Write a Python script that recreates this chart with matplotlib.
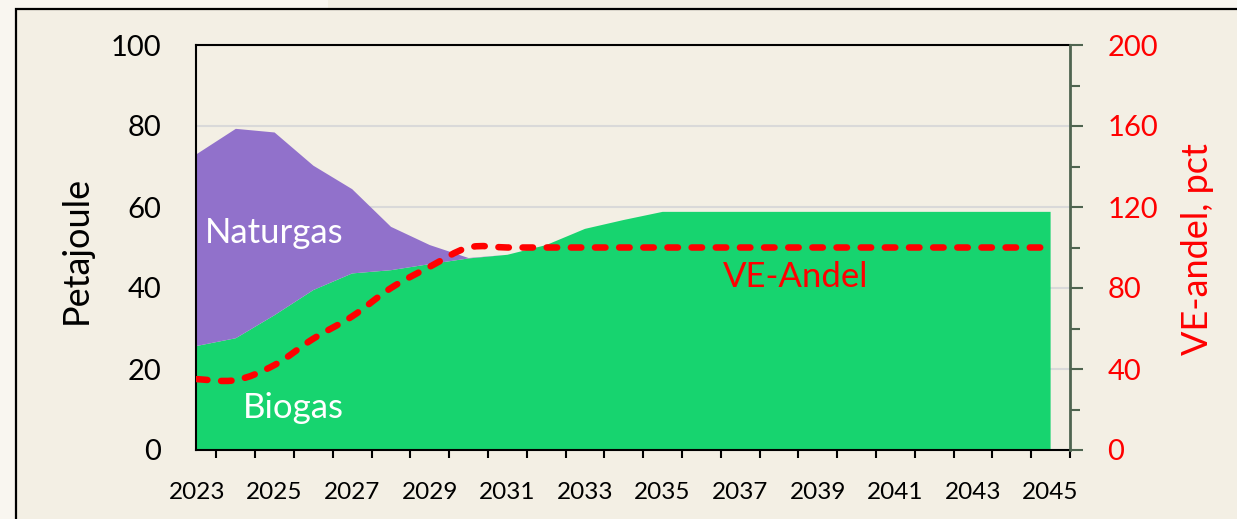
import matplotlib
matplotlib.use('Agg')
import matplotlib.pyplot as plt
from matplotlib.path import Path
from matplotlib.patches import PathPatch, Rectangle

# ---------------- data ----------------
years = [2023, 2024, 2025, 2026, 2027, 2028, 2029, 2030, 2031, 2032, 2033, 2034,
         2035, 2036, 2037, 2038, 2039, 2040, 2041, 2042, 2043, 2044, 2045]
biogas = [25.7, 27.6, 33.3, 39.5, 43.6, 44.4, 45.9, 47.3, 48.2, 50.6, 54.6, 56.8,
          58.8, 58.8, 58.8, 58.8, 58.8, 58.8, 58.8, 58.8, 58.8, 58.8, 58.8]
naturgas = [47.4, 51.7, 45.1, 30.7, 20.8, 10.7, 4.7, 0.1, 0.0, 0.0, 0.0, 0.0,
            0.0, 0.0, 0.0, 0.0, 0.0, 0.0, 0.0, 0.0, 0.0, 0.0, 0.0]
ve_andel = [35.0, 34.5, 42.0, 55.0, 66.0, 80.0, 90.5, 100.0, 100.0, 100.0, 100.0, 100.0,
            100.0, 100.0, 100.0, 100.0, 100.0, 100.0, 100.0, 100.0, 100.0, 100.0, 100.0]
xlabels = [str(y) for y in years[::2]]
left_ticks = [0, 20, 40, 60, 80, 100]
right_ticks = [0, 40, 80, 120, 160, 200]

# ---------------- style ----------------
W, H = 1237, 519
BG = '#f3efe4'
OUTER = '#f9f6f0'
GREEN = '#17d46f'
PURPLE = '#9171cb'
RED = '#ff0000'
SPINE2 = '#4f6450'
plt.rcParams['font.family'] = ['Lato', 'DejaVu Sans']

fig = plt.figure(figsize=(W / 100, H / 100), dpi=100)
fig.patch.set_facecolor(OUTER)

def px(x, y):
    return x / W, 1 - y / H

# outer frame
fig.patches.append(Rectangle(px(328, 9), (890 - 328) / W, 9 / H, transform=fig.transFigure,
                             facecolor=BG, edgecolor='none', zorder=-10))
fig.patches.append(Rectangle((16 / W, -0.2), 1.2, (H - 9) / H + 0.2, transform=fig.transFigure,
                             facecolor=BG, edgecolor='black', lw=1.6, zorder=-9))

L, R, T, B = 196, 1070, 45, 450
ax = fig.add_axes([L / W, 1 - B / H, (R - L) / W, (B - T) / H])
ax.set_facecolor('none')
ax.stackplot(years, biogas, naturgas, colors=[GREEN, PURPLE], linewidth=0, zorder=2)
ax.set_xlim(2022.974, 2045.5)
ax.set_ylim(0, 100)
ax.set_yticks(left_ticks)
ax.yaxis.grid(True, color='#d9d9d9', lw=1.5, zorder=0)
ax.set_axisbelow(True)
ax.tick_params(axis='y', length=0, pad=25, labelsize=21, colors='black')
ax.set_xticks(years[::2])
ax.set_xticklabels(xlabels)
ax.set_xticks([y + 0.5 for y in years], minor=True)
ax.tick_params(axis='x', which='major', length=0, pad=23, labelsize=17.5)
ax.tick_params(axis='x', which='minor', length=5.5, width=1.5, color='black')
for s in ['top', 'left', 'bottom']:
    ax.spines[s].set_color('black')
    ax.spines[s].set_linewidth(1.5)
ax.spines['right'].set_visible(False)

ax2 = ax.twinx()
ax2.set_ylim(0, 200)
ax2.set_yticks(right_ticks)
ax2.set_yticks([20, 60, 100, 140, 180], minor=True)
ax2.tick_params(axis='y', which='major', length=9, width=1.5, color=SPINE2,
                labelcolor=RED, labelsize=21, pad=18)
ax2.tick_params(axis='y', which='minor', length=7, width=1.5, color=SPINE2)
for s in ['top', 'left', 'bottom']:
    ax2.spines[s].set_visible(False)
ax2.spines['right'].set_color(SPINE2)
ax2.spines['right'].set_linewidth(2)

# smoothed (Excel-style) dashed line through the VE-andel values
def smooth_path(xs, ys):
    n = len(xs)
    verts = [(xs[0], ys[0])]
    codes = [Path.MOVETO]
    for i in range(n - 1):
        p0 = (xs[i - 1], ys[i - 1]) if i > 0 else (xs[i], ys[i])
        p1 = (xs[i], ys[i])
        p2 = (xs[i + 1], ys[i + 1])
        p3 = (xs[i + 2], ys[i + 2]) if i + 2 < n else p2
        c1 = (p1[0] + (p2[0] - p0[0]) / 6, p1[1] + (p2[1] - p0[1]) / 6)
        c2 = (p2[0] - (p3[0] - p1[0]) / 6, p2[1] - (p3[1] - p1[1]) / 6)
        verts += [c1, c2, p2]
        codes += [Path.CURVE4] * 3
    return Path(verts, codes)

ax2.add_patch(PathPatch(smooth_path(years, ve_andel), fill=False, edgecolor=RED,
                        lw=4.7, linestyle=(0, (1.6, 2.1)), capstyle='round', zorder=5))

# labels
fig.text(*px(76, 250), 'Petajoule', rotation=90, ha='center', va='center',
         fontsize=26, color='black')
fig.text(*px(1198, 249), 'VE-andel, pct', rotation=90, ha='center', va='center',
         fontsize=26, color=RED)
fig.text(*px(205, 243), 'Naturgas', ha='left', va='baseline', fontsize=25, color='white')
fig.text(*px(243, 418), 'Biogas', ha='left', va='baseline', fontsize=25, color='white')
fig.text(*px(723, 287), 'VE-Andel', ha='left', va='baseline', fontsize=25, color=RED)

fig.savefig('out.png', dpi=100, facecolor=fig.get_facecolor())
